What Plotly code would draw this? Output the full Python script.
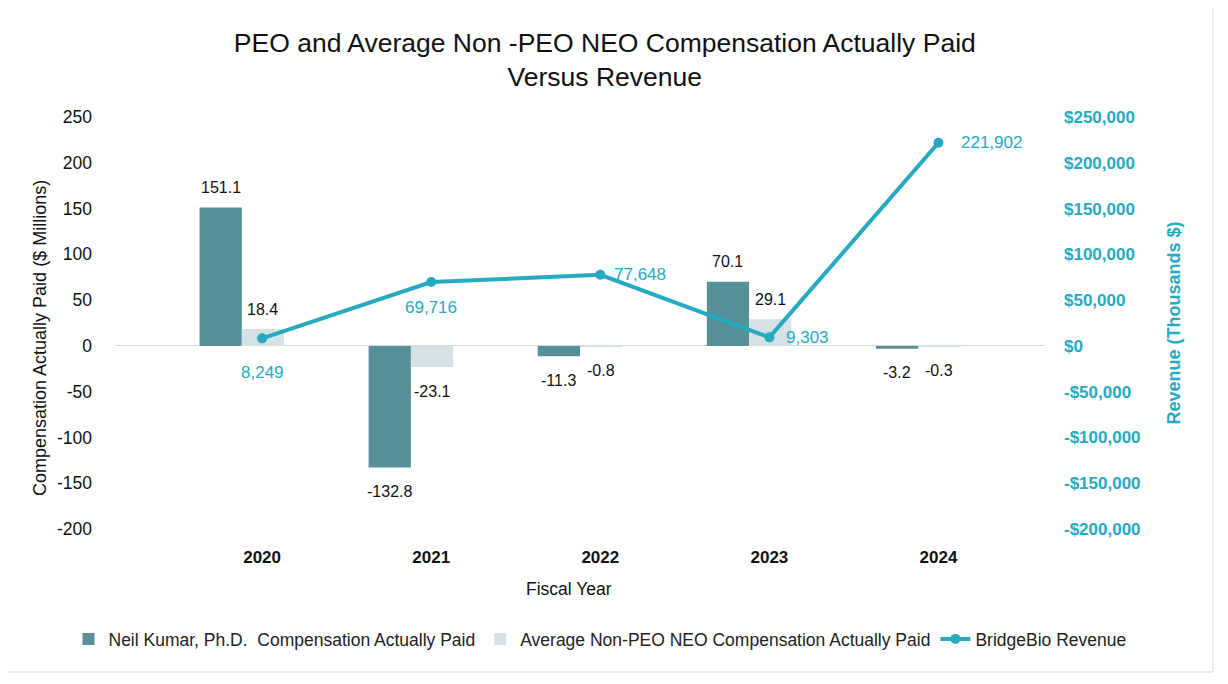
import plotly.graph_objects as go

years = ["2020", "2021", "2022", "2023", "2024"]
peo_cap = [151.1, -132.8, -11.3, 70.1, -3.2]
neo_cap = [18.4, -23.1, -0.8, 29.1, -0.3]
revenue = [8249, 69716, 77648, 9303, 221902]
left_ticks = [-200, -150, -100, -50, 0, 50, 100, 150, 200, 250]
right_ticks = [-200000, -150000, -100000, -50000, 0, 50000, 100000, 150000, 200000, 250000]

left_tick_text = [str(v) for v in left_ticks]
right_tick_text = ["<b>" + ("-$" if v < 0 else "$") + f"{abs(v):,}" + "</b>" for v in right_ticks]

FONT = "Liberation Sans, Arial, sans-serif"
TEAL = "#578F98"
PALE = "#D6E1E6"
CYAN = "#25AAC2"
DARK = "#111111"

BAR_W = 0.25
OFF_PEO = -0.37
OFF_NEO = -0.12

# layout geometry (page px; page has an 8px body offset)
W, H = 1228, 684
ML, MR, MT, MB = 20, 20, 109, 163
GS_W = W - ML - MR
PLOT_L, PLOT_R = 115, 1045          # page px of plot area
PLOT_T, PLOT_B = 117, 529


def px_x(px):
    return (px - 8 - ML) / GS_W


def px_y(py):
    return (PLOT_B - py) / (PLOT_B - PLOT_T)


fig = go.Figure()
fig.add_trace(go.Bar(
    x=years, y=peo_cap, name="Neil Kumar, Ph.D.  Compensation Actually Paid",
    marker=dict(color=TEAL, line=dict(width=0)), width=BAR_W, offset=OFF_PEO,
))
fig.add_trace(go.Bar(
    x=years, y=neo_cap, name="Average Non-PEO NEO Compensation Actually Paid",
    marker=dict(color=PALE, line=dict(width=0)), width=BAR_W, offset=OFF_NEO,
))
fig.add_trace(go.Scatter(
    x=years, y=revenue, name="BridgeBio Revenue", yaxis="y2",
    mode="lines+markers", line=dict(color=CYAN, width=4),
    marker=dict(color=CYAN, size=10), cliponaxis=False,
))

annotations = []
for series, off in ((peo_cap, OFF_PEO), (neo_cap, OFF_NEO)):
    for i, v in enumerate(series):
        annotations.append(dict(
            x=i + off + BAR_W / 2, y=v, xref="x", yref="y", text=f"{v:.1f}",
            showarrow=False, xanchor="center", yanchor="middle",
            yshift=20 if v >= 0 else -24,
            font=dict(size=16, color=DARK, family=FONT)))
rev_label_style = [
    dict(xanchor="center", xshift=0, yshift=-34),
    dict(xanchor="center", xshift=0, yshift=-25),
    dict(xanchor="left", xshift=12, yshift=0),
    dict(xanchor="left", xshift=15, yshift=0),
    dict(xanchor="left", xshift=21, yshift=0),
]
for i, v in enumerate(revenue):
    st = rev_label_style[i]
    annotations.append(dict(
        x=i, y=v, xref="x", yref="y2", text=f"{v:,}", showarrow=False,
        yanchor="middle", font=dict(size=17, color=CYAN, family=FONT), **st))
annotations.append(dict(
    x=px_x(568.5), y=px_y(589), xref="paper", yref="paper",
    text="Fiscal Year", showarrow=False, xanchor="center", yanchor="middle",
    font=dict(size=17.5, color=DARK, family=FONT)))
annotations.append(dict(
    x=px_x(40), y=px_y(338), xref="paper", yref="paper",
    text="Compensation Actually Paid ($ Millions)", textangle=-90, showarrow=False,
    xanchor="center", yanchor="middle", font=dict(size=18, color=DARK, family=FONT)))

fig.update_layout(
    width=W, height=H,
    margin=dict(l=ML, r=MR, t=MT, b=MB),
    paper_bgcolor="white", plot_bgcolor="white",
    font=dict(family=FONT, color=DARK, size=16),
    title=dict(text="PEO and Average Non -PEO NEO Compensation Actually Paid<br>Versus Revenue",
               x=0.486, xanchor="center", xref="container",
               y=1 - 44 / 684, yanchor="middle", yref="container",
               font=dict(size=26.5, color=DARK, family=FONT)),
    barmode="overlay",
    showlegend=True,
    legend=dict(orientation="h", x=px_x(600), xanchor="center", y=px_y(639), yanchor="middle",
                font=dict(size=17.5, color="#222222", family=FONT), bgcolor="rgba(0,0,0,0)"),
    xaxis=dict(type="category", range=[-0.87, 4.63], domain=[px_x(PLOT_L), px_x(PLOT_R)],
               showgrid=False, showline=False,
               ticks="", tickvals=years, ticktext=[f"<b>{y}</b>" for y in years],
               tickfont=dict(size=17, color=DARK, family=FONT), ticklabelstandoff=16),
    yaxis=dict(range=[-200, 250], tickvals=left_ticks, ticktext=left_tick_text,
               showgrid=False, zeroline=True,
               zerolinecolor="#D9D9D9", zerolinewidth=1, showline=False, ticks="",
               tickfont=dict(size=17.5, color=DARK, family=FONT), ticklabelstandoff=22),
    yaxis2=dict(range=[-200000, 250000], tickvals=right_ticks, ticktext=right_tick_text,
                overlaying="y", side="right", anchor="x",
                showgrid=False, zeroline=False, showline=False,
                ticks="", tickfont=dict(size=17, color=CYAN, family=FONT),
                ticklabelstandoff=18,
                title=dict(text="<b>Revenue (Thousands $)</b>",
                           font=dict(size=18, color=CYAN, family=FONT), standoff=27)),
    annotations=annotations,
)

fig.add_shape(type="rect", xref="paper", yref="paper",
              x0=px_x(3), x1=px_x(1213), y0=px_y(672), y1=px_y(3),
              line=dict(color="#D9D9D9", width=1), fillcolor="rgba(0,0,0,0)", layer="below")

fig.write_html("out.html")
